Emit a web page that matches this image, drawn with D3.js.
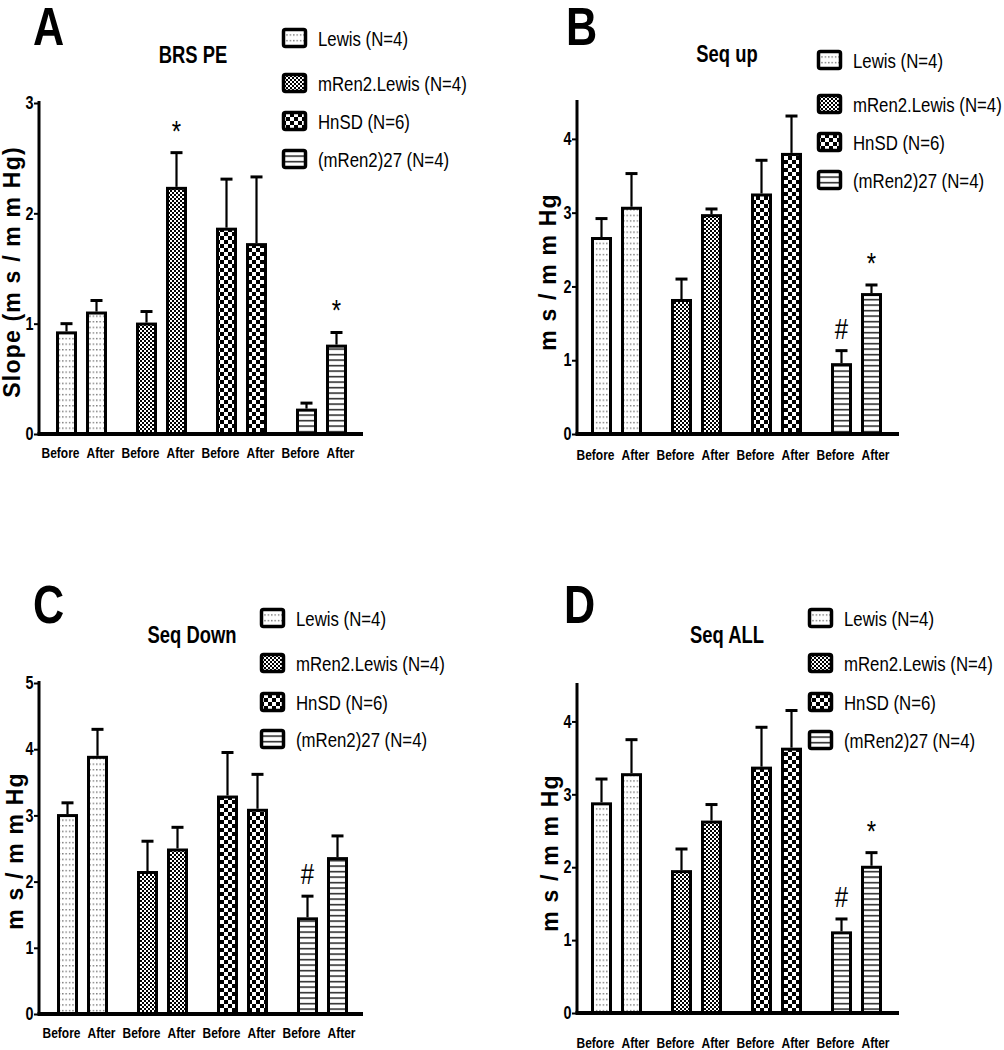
<!DOCTYPE html>
<html>
<head>
<meta charset="utf-8">
<script src="https://cdn.jsdelivr.net/npm/d3@7"></script>
<style>
  body { margin: 0; background: #fff; }
  svg { display: block; }
</style>
</head>
<body>
<svg id="fig" width="1004" height="1050"></svg>
<script>
// groups and phases shared by all four panels
const groups = ["Lewis (N=4)", "mRen2.Lewis (N=4)", "HnSD (N=6)", "(mRen2)27 (N=4)"];
const phases = ["Before", "After"];
const patternIds = ["pLewis", "pRen2", "pHnSD", "p27"];

// A: BRS PE
const brsMean = [0.93, 1.11, 1.01, 2.24, 1.87, 1.73, 0.23, 0.81];
const brsSem  = [0.07, 0.10, 0.10, 0.31, 0.44, 0.60, 0.05, 0.11];
const brsMarks = ["", "", "", "*", "", "", "", "*"];
// B: Seq up
const upMean = [2.67, 3.08, 1.83, 2.98, 3.26, 3.81, 0.96, 1.91];
const upSem  = [0.25, 0.45, 0.27, 0.07, 0.45, 0.50, 0.17, 0.11];
const upMarks = ["", "", "", "", "", "", "#", "*"];
// C: Seq Down
const downMean = [3.02, 3.90, 2.16, 2.50, 3.30, 3.10, 1.46, 2.37];
const downSem  = [0.17, 0.40, 0.45, 0.32, 0.65, 0.52, 0.32, 0.32];
const downMarks = ["", "", "", "", "", "", "#", ""];
// D: Seq ALL
const allMean = [2.89, 3.29, 1.96, 2.64, 3.38, 3.64, 1.12, 2.02];
const allSem  = [0.32, 0.46, 0.29, 0.22, 0.54, 0.51, 0.17, 0.18];
const allMarks = ["", "", "", "", "", "", "#", "*"];

const ticks3 = [0, 1, 2, 3];
const ticks4 = [0, 1, 2, 3, 4];
const ticks5 = [0, 1, 2, 3, 4, 5];

// no narrow face installed, so squeeze Liberation Sans horizontally
const FONT = "'Liberation Sans', Arial, sans-serif";
const SQ = 0.8;
// Before/After labels sit a little apart from their bar centres
const labelShift = { Before: -6, After: 4 };

const svg = d3.select("#fig");
const defs = svg.append("defs");

// fill patterns
let p = defs.append("pattern").attr("id", "pLewis")
  .attr("patternUnits", "userSpaceOnUse").attr("width", 3.4).attr("height", 5.6);
p.append("rect").attr("width", 3.4).attr("height", 5.6).attr("fill", "#fff");
p.append("rect").attr("x", 1).attr("y", 2).attr("width", 1.2).attr("height", 1.2).attr("fill", "#444");

p = defs.append("pattern").attr("id", "pRen2")
  .attr("patternUnits", "userSpaceOnUse").attr("width", 4).attr("height", 4);
p.append("rect").attr("width", 4).attr("height", 4).attr("fill", "#fff");
p.append("rect").attr("width", 2).attr("height", 2).attr("fill", "#000");
p.append("rect").attr("x", 2).attr("y", 2).attr("width", 2).attr("height", 2).attr("fill", "#000");

p = defs.append("pattern").attr("id", "pHnSD")
  .attr("patternUnits", "userSpaceOnUse").attr("width", 8).attr("height", 8);
p.append("rect").attr("width", 8).attr("height", 8).attr("fill", "#fff");
p.append("rect").attr("width", 4).attr("height", 4).attr("fill", "#000");
p.append("rect").attr("x", 4).attr("y", 4).attr("width", 4).attr("height", 4).attr("fill", "#000");

p = defs.append("pattern").attr("id", "p27")
  .attr("patternUnits", "userSpaceOnUse").attr("width", 6).attr("height", 5.5);
p.append("rect").attr("width", 6).attr("height", 5.5).attr("fill", "#fff");
p.append("rect").attr("y", 2).attr("width", 6).attr("height", 1.3).attr("fill", "#000");

const panels = [
  { letter: "A", title: "BRS PE", mean: brsMean, sem: brsSem, marks: brsMarks,
    ymax: 3, ticks: ticks3, ylabel: "Slope (m s / m m Hg)",
    ax: 39, y0: 434, yTop: 103, xEnd: 363, barStart: 41.5,
    letterX: 33, letterY: 45, titleX: 193, titleY: 63,
    ylabX: 20, ylabY: 272, xlabDy: 24,
    legX: 282, legY: [38, 83, 121, 159] },
  { letter: "B", title: "Seq up", mean: upMean, sem: upSem, marks: upMarks,
    ymax: 4.5, ticks: ticks4, ylabel: "m s / m m Hg",
    ax: 577, y0: 434, yTop: 102, xEnd: 899, barStart: 576.5,
    letterX: 566, letterY: 45, titleX: 727, titleY: 62,
    ylabX: 556, ylabY: 272, xlabDy: 26,
    legX: 817, legY: [60, 104, 142, 180] },
  { letter: "C", title: "Seq Down", mean: downMean, sem: downSem, marks: downMarks,
    ymax: 5, ticks: ticks5, ylabel: "m s / m m Hg",
    ax: 39, y0: 1014, yTop: 683, xEnd: 363, barStart: 42.5,
    letterX: 33, letterY: 623, titleX: 192, titleY: 643,
    ylabX: 23, ylabY: 851, xlabDy: 24,
    legX: 260, legY: [618, 663, 702, 739] },
  { letter: "D", title: "Seq ALL", mean: allMean, sem: allSem, marks: allMarks,
    ymax: 4.5, ticks: ticks4, ylabel: "m s / m m Hg",
    ax: 577, y0: 1013, yTop: 685, xEnd: 899, barStart: 576.5,
    letterX: 564, letterY: 623, titleX: 727, titleY: 643,
    ylabX: 558, ylabY: 853, xlabDy: 35,
    legX: 808, legY: [618, 663, 702, 740] }
];

panels.forEach(cfg => drawPanel(cfg));

// place a text at (x,y) and squeeze it horizontally
function squeeze(sel, x, y) {
  return sel.attr("x", 0).attr("y", 0)
    .attr("transform", (d, i) => {
      let xx = typeof x === "function" ? x(d, i) : x;
      let yy = typeof y === "function" ? y(d, i) : y;
      return `translate(${xx},${yy}) scale(${SQ},1)`;
    })
    .style("font-family", FONT);
}

function drawPanel(cfg) {
  const g = svg.append("g");

  let yScale = d3.scaleLinear().domain([0, cfg.ymax]).range([cfg.y0, cfg.yTop]);
  let gScale = d3.scaleBand().domain(groups)
    .range([cfg.barStart, cfg.barStart + 320]);
  let pScale = d3.scaleBand().domain(phases)
    .range([10, 70]).paddingInner(0.3).paddingOuter(0.15);

  // flatten to one row per bar
  let bars = [];
  groups.forEach((grp, gi) => {
    phases.forEach((ph, pi) => {
      let i = gi * 2 + pi;
      bars.push({ grp: grp, gi: gi, phase: ph, mean: cfg.mean[i], sem: cfg.sem[i], mark: cfg.marks[i],
                  x: gScale(grp) + pScale(ph) });
    });
  });
  let bw = pScale.bandwidth();

  // error bars (upper only)
  g.selectAll(".err").data(bars).join("line")
    .attr("x1", d => d.x + bw/2).attr("x2", d => d.x + bw/2)
    .attr("y1", d => yScale(d.mean)).attr("y2", d => yScale(d.mean + d.sem))
    .attr("stroke", "#000").attr("stroke-width", 2.2);
  g.selectAll(".cap").data(bars).join("line")
    .attr("x1", d => d.x + bw/2 - 6).attr("x2", d => d.x + bw/2 + 6)
    .attr("y1", d => yScale(d.mean + d.sem)).attr("y2", d => yScale(d.mean + d.sem))
    .attr("stroke", "#000").attr("stroke-width", 3);

  // bars
  g.selectAll(".bar").data(bars).join("rect")
    .attr("x", d => d.x + 1.5)
    .attr("y", d => yScale(d.mean) + 1.5)
    .attr("width", bw - 3)
    .attr("height", d => cfg.y0 - yScale(d.mean) - 1.5)
    .attr("fill", d => `url(#${patternIds[d.gi]})`)
    .attr("stroke", "#000").attr("stroke-width", 3);

  // significance marks
  g.selectAll(".mark").data(bars.filter(d => d.mark)).join("text")
    .call(squeeze, d => d.x + bw/2, d => yScale(d.mean + d.sem) - 12)
    .attr("text-anchor", "middle")
    .style("font-size", "30px")
    .text(d => d.mark);

  // y axis
  let yAxis = d3.axisLeft(yScale).tickValues(cfg.ticks).tickSize(5).tickPadding(1)
    .tickFormat(d3.format("d"));
  let ya = g.append("g").attr("transform", `translate(${cfg.ax},0)`).call(yAxis);
  ya.select(".domain").remove();
  ya.selectAll(".tick line").attr("stroke", "#000").attr("stroke-width", 2);
  ya.selectAll(".tick text")
    .attr("x", -5.5 / SQ)
    .attr("transform", `scale(${SQ},1)`)
    .style("font-family", FONT).style("font-size", "18px").style("font-weight", "bold")
    .attr("fill", "#000");
  g.append("line")
    .attr("x1", cfg.ax).attr("x2", cfg.ax)
    .attr("y1", cfg.y0).attr("y2", cfg.yTop - 2)
    .attr("stroke", "#000").attr("stroke-width", 3);

  // x axis line
  g.append("line")
    .attr("x1", cfg.ax - 1.5).attr("x2", cfg.xEnd)
    .attr("y1", cfg.y0).attr("y2", cfg.y0)
    .attr("stroke", "#000").attr("stroke-width", 4);

  // x labels
  g.selectAll(".xlab").data(bars).join("text")
    .call(squeeze, d => d.x + bw/2 + labelShift[d.phase], cfg.y0 + cfg.xlabDy)
    .attr("text-anchor", "middle")
    .style("font-size", "15px").style("font-weight", "bold")
    .text(d => d.phase);

  // y label
  g.append("text")
    .attr("transform", `translate(${cfg.ylabX},${cfg.ylabY}) rotate(-90)`)
    .attr("text-anchor", "middle")
    .style("font-family", FONT).style("font-size", "23px").style("font-weight", "bold")
    .style("letter-spacing", "1.2px")
    .text(cfg.ylabel);

  // panel letter + title
  g.append("text")
    .call(squeeze, cfg.letterX, cfg.letterY)
    .style("font-size", "54px").style("font-weight", "bold")
    .text(cfg.letter);
  g.append("text")
    .call(squeeze, cfg.titleX, cfg.titleY)
    .attr("text-anchor", "middle")
    .style("font-size", "23px").style("font-weight", "bold")
    .text(cfg.title);

  // legend
  let leg = g.selectAll(".leg").data(groups).join("g")
    .attr("transform", (d, i) => `translate(${cfg.legX},${cfg.legY[i]})`);
  leg.append("rect")
    .attr("x", 1.5).attr("y", -8.5).attr("width", 22).attr("height", 17).attr("rx", 2)
    .attr("fill", (d, i) => `url(#${patternIds[i]})`)
    .attr("stroke", "#000").attr("stroke-width", 3.5);
  leg.append("text")
    .call(squeeze, 36, 7.5)
    .style("font-size", "21px")
    .text(d => d);
}
</script>
</body>
</html>
